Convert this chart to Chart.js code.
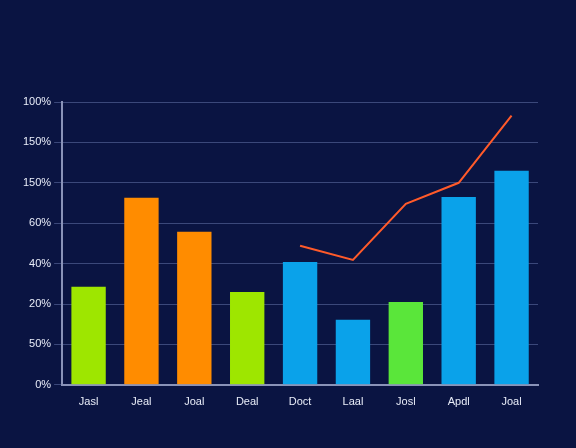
<!DOCTYPE html><html><head><script src="https://cdn.jsdelivr.net/npm/chart.js@4"></script>
<style>body{margin:0;background:#0a1442}#w{width:576px;height:448px}</style></head><body><div id="w"><canvas id="c"></canvas></div>
<script>
const categories=["Jasl","Jeal","Joal","Deal","Doct","Laal","Josl","Apdl","Joal"];
const barValues=[2.43,4.63,3.79,2.30,3.04,1.61,2.05,4.65,5.30];
const lineValues=[null,null,null,null,3.44,3.09,4.48,5.0,6.66];
const tickLabels=["0%","50%","20%","40%","60%","150%","150%","100%"];
const barColors=["#9ee600","#ff8c00","#ff8c00","#9ee600","#0aa2ea","#0aa2ea","#5ae63a","#0aa2ea","#0aa2ea"];
new Chart(document.getElementById('c'),{data:{labels:categories,datasets:[
{type:'line',data:lineValues,borderColor:'#ff5a2a',borderWidth:2,pointRadius:0,tension:0,order:0},
{type:'bar',data:barValues,backgroundColor:barColors,barPercentage:0.65,categoryPercentage:1,order:1}]},
options:{responsive:true,maintainAspectRatio:false,animation:false,
layout:{padding:{top:102,right:38,left:20,bottom:36}},
plugins:{legend:{display:false},tooltip:{enabled:false}},
scales:{x:{grid:{display:false},border:{color:'#8a93b8',width:2},ticks:{color:'#e8ecf8',font:{family:'Liberation Sans',size:11}}},
y:{min:0,max:7,ticks:{stepSize:1,color:'#e8ecf8',font:{family:'Liberation Sans',size:11},callback:v=>tickLabels[v]},
grid:{color:'rgba(120,135,190,0.45)'},border:{color:'#8a93b8',width:2}}}}});
</script></body></html>
